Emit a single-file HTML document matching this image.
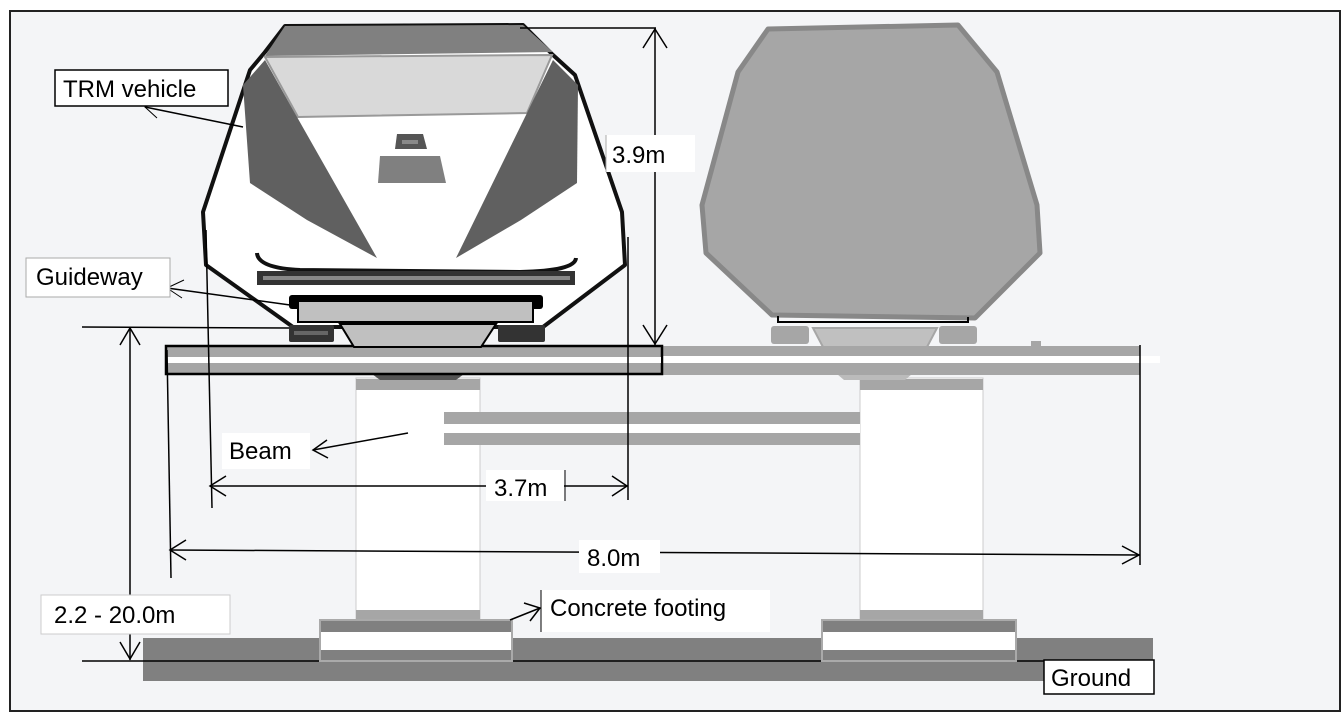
<!DOCTYPE html>
<html><head><meta charset="utf-8"><style>
html,body{margin:0;padding:0;background:#fff;}
svg{display:block;}
text{font-family:"Liberation Sans",sans-serif;font-size:24px;fill:#000;}
</style></head><body>
<svg width="1342" height="714" viewBox="0 0 1342 714" xmlns="http://www.w3.org/2000/svg">
<rect x="10" y="11" width="1330" height="700" fill="#f4f5f7" stroke="#222" stroke-width="2"/>

<!-- ground -->
<rect x="143" y="638" width="1010" height="23" fill="#808080"/>
<rect x="143" y="661" width="901" height="20" fill="#808080"/>
<line x1="82" y1="661" x2="1044" y2="661" stroke="#000" stroke-width="1.5"/>

<!-- pillars -->
<g>
<rect x="356" y="378" width="124" height="242" fill="#fff" stroke="#ccc" stroke-width="1"/>
<rect x="356" y="379" width="124" height="11" fill="#a6a6a6"/>
<rect x="356" y="610" width="124" height="10" fill="#a6a6a6"/>
<rect x="320" y="620" width="192" height="41" fill="#808080" stroke="#aaa" stroke-width="2"/>
<rect x="321" y="632" width="190" height="18" fill="#fff"/>
<rect x="860" y="378" width="123" height="242" fill="#fff" stroke="#ccc" stroke-width="1"/>
<rect x="860" y="379" width="123" height="11" fill="#a6a6a6"/>
<rect x="860" y="610" width="123" height="10" fill="#a6a6a6"/>
<rect x="822" y="620" width="194" height="41" fill="#808080" stroke="#aaa" stroke-width="2"/>
<rect x="823" y="632" width="192" height="18" fill="#fff"/>
</g>
<!-- cross beam -->
<rect x="444" y="412" width="416" height="33" fill="#a6a6a6"/>
<rect x="444" y="424" width="416" height="9" fill="#fff"/>
<!-- pillar top wedges -->
<polygon points="372,374 464,374 456,380 380,380" fill="#555"/>
<polygon points="837,374 912,374 905,380 844,380" fill="#bbb"/>

<!-- guideway right -->
<rect x="662" y="346" width="478" height="29" fill="#a6a6a6"/>
<rect x="662" y="356" width="498" height="7" fill="#fff"/>
<rect x="1031" y="341" width="10" height="6" fill="#a6a6a6"/>
<!-- guideway left -->
<rect x="166" y="346" width="496" height="28" fill="#a6a6a6" stroke="#000" stroke-width="2.5"/>
<rect x="167" y="357" width="494" height="6" fill="#fff"/>

<!-- right vehicle -->
<polygon points="768,29 958,25 997,72 1037,205 1040,253 975,318 772,315 706,253 702,205 738,72" fill="#a6a6a6" stroke="#888" stroke-width="5" stroke-linejoin="round"/>
<polyline points="778,316 778,322 968,322 968,317" fill="none" stroke="#000" stroke-width="2"/>
<rect x="771" y="326" width="38" height="18" rx="3" fill="#a6a6a6"/>
<rect x="939" y="326" width="38" height="18" rx="3" fill="#a6a6a6"/>
<polygon points="813,328 937,328 927,347 823,347" fill="#c0c0c0" stroke="#a6a6a6" stroke-width="2"/>

<!-- left vehicle -->
<polygon points="285,26 523,25 553,55 575,75 622,212 625,265 543,327 293,327 206,265 203,212 250,70 265,52" fill="#fff" stroke="#111" stroke-width="4" stroke-linejoin="round"/>
<polygon points="285,26 523,25 553,52 265,56" fill="#808080"/>
<polygon points="265,57 552,55 527,113 298,117" fill="#d9d9d9" stroke="#999" stroke-width="2"/>
<polygon points="265,60 243,85 250,183 307,220 377,258 297,117" fill="#606060"/>
<polygon points="553,60 578,85 577,183 521,220 456,258 527,113" fill="#606060"/>
<polygon points="397,134 423,134 427,149 395,149" fill="#555"/>
<rect x="402" y="140" width="16" height="4" fill="#888"/>
<polygon points="380,156 440,156 446,183 378,183" fill="#808080"/>
<path d="M257,253 Q258,268 300,270 L520,272 Q575,271 576,258" fill="none" stroke="#111" stroke-width="4"/>
<rect x="257" y="271" width="318" height="14" fill="#333"/>
<rect x="263" y="276" width="307" height="4" fill="#888"/>
<rect x="289" y="295" width="254" height="14" rx="3" fill="#000"/>
<rect x="298" y="301" width="235" height="21" fill="#c0c0c0" stroke="#000" stroke-width="2"/>
<rect x="289" y="325" width="45" height="17" rx="2" fill="#333"/>
<rect x="294" y="331" width="34" height="4" fill="#666"/>
<rect x="498" y="325" width="47" height="17" rx="2" fill="#333"/>
<polygon points="340,324 496,324 481,347 354,347" fill="#c0c0c0" stroke="#000" stroke-width="2"/>

<!-- dimension lines -->
<g stroke="#000" stroke-width="1.5" fill="none">
<line x1="520" y1="28" x2="656" y2="28"/>
<line x1="655" y1="28" x2="655" y2="345"/>
<polyline points="643,48 655,29 667,48"/>
<polyline points="643,325 655,344 667,325"/>
<line x1="628" y1="237" x2="628" y2="500"/>
<line x1="206" y1="230" x2="212" y2="508"/>
<line x1="167" y1="350" x2="171" y2="578"/>
<line x1="1140" y1="345" x2="1140" y2="565"/>
<line x1="210" y1="486" x2="628" y2="486"/>
<polyline points="226,476 210,486 226,496"/>
<polyline points="612,476 627,486 612,496"/>
<line x1="170" y1="550" x2="1140" y2="555"/>
<polyline points="186,540 170,550 186,560"/>
<polyline points="1122,546 1139,555 1122,564"/>
<line x1="130" y1="327" x2="130" y2="660"/>
<polyline points="120,345 130,328 140,345"/>
<polyline points="120,642 130,659 140,642"/>
<line x1="82" y1="327" x2="289" y2="328"/>
<line x1="243" y1="127" x2="145" y2="107"/>
<polyline points="163,100 145,107 157,118" stroke-width="1"/>
<line x1="290" y1="305" x2="167" y2="288"/>
<polyline points="184,280 167,288 182,298" stroke-width="1"/>
<line x1="408" y1="433" x2="313" y2="450"/>
<polyline points="327,440 313,450 328,458"/>
<line x1="510" y1="620" x2="540" y2="608"/>
<polyline points="524,603 540,608 530,621"/>
</g>

<!-- labels -->
<rect x="55" y="70" width="173" height="36" fill="#fff" stroke="#000" stroke-width="1.5"/>
<text x="63" y="97">TRM vehicle</text>
<rect x="26" y="258" width="144" height="39" fill="#fff" stroke="#aaa" stroke-width="1"/>
<text x="36" y="285">Guideway</text>
<rect x="606" y="135" width="89" height="37" fill="#fff"/>
<line x1="606" y1="135" x2="606" y2="172" stroke="#aaa"/>
<text x="612" y="163">3.9m</text>
<rect x="222" y="433" width="88" height="36" fill="#fff"/>
<text x="229" y="459">Beam</text>
<rect x="486" y="470" width="78" height="31" fill="#fff"/>
<line x1="565" y1="470" x2="565" y2="501" stroke="#000"/>
<text x="494" y="496">3.7m</text>
<rect x="579" y="540" width="81" height="33" fill="#fff"/>
<text x="587" y="566">8.0m</text>
<rect x="41" y="595" width="189" height="39" fill="#fff" stroke="#ccc" stroke-width="1"/>
<text x="54" y="623">2.2 - 20.0m</text>
<rect x="541" y="590" width="229" height="42" fill="#fff"/>
<line x1="541" y1="590" x2="541" y2="632" stroke="#000"/>
<text x="550" y="616">Concrete footing</text>
<rect x="1044" y="660" width="110" height="34" fill="#fff" stroke="#000" stroke-width="1.5"/>
<text x="1051" y="686">Ground</text>
</svg>
</body></html>
